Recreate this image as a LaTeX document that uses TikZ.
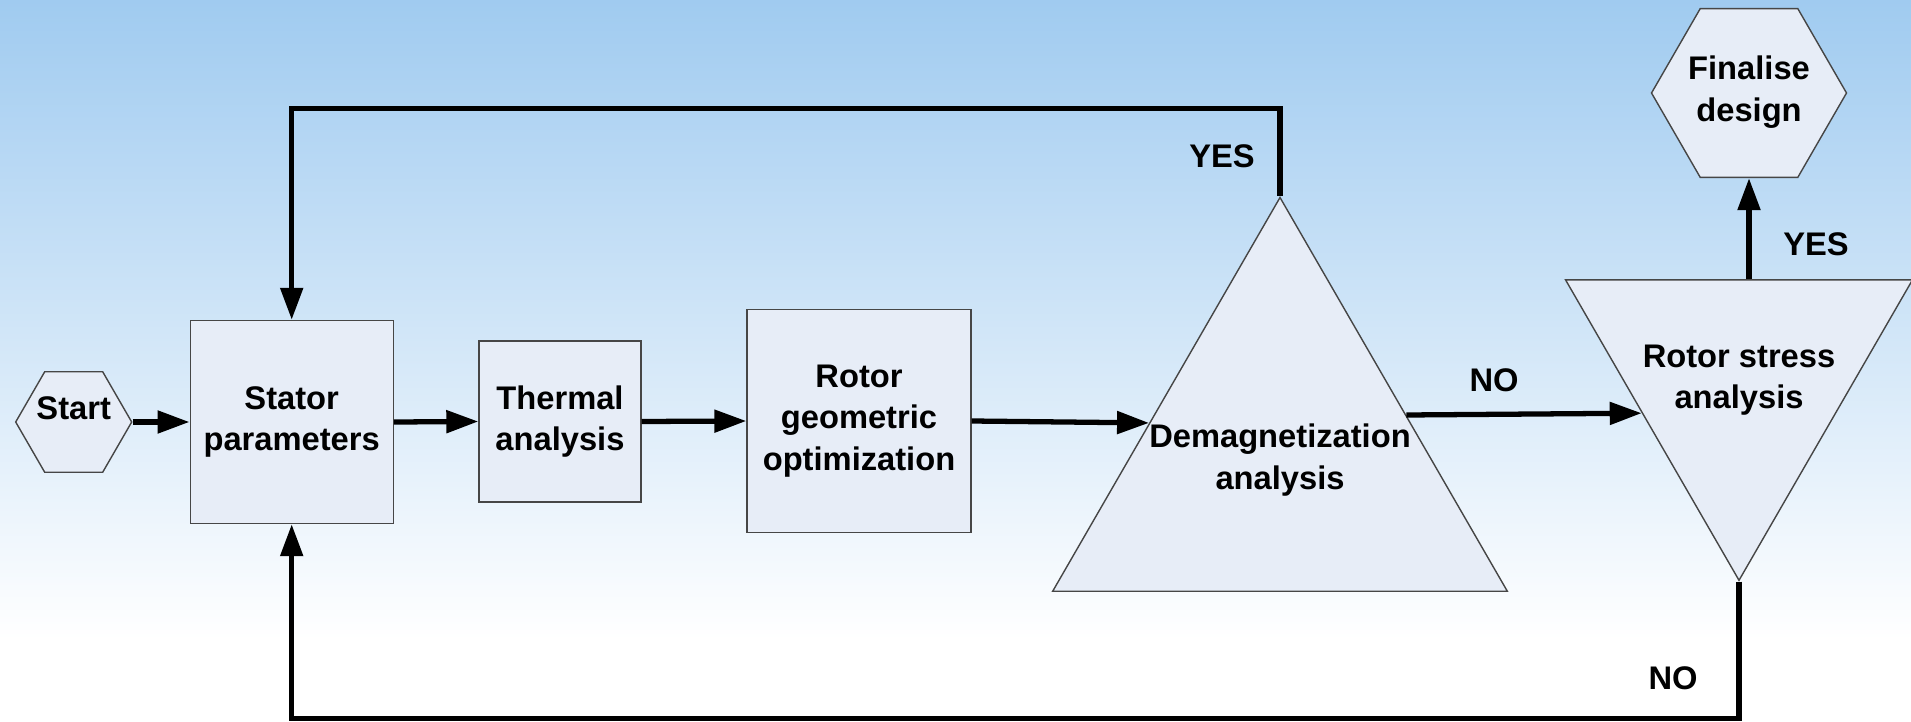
\documentclass[tikz,border=0pt]{standalone}
\usepackage{fontspec}
\setmainfont{Liberation Sans}
\usetikzlibrary{arrows.meta,shapes.geometric,calc}
\definecolor{skytop}{RGB}{160,203,240}
\definecolor{boxfill}{RGB}{231,237,247}
\definecolor{edge}{RGB}{70,70,70}
\tikzset{
  blk/.style={draw=edge, thin, fill=boxfill, inner sep=0pt},
  hexa/.style={blk, regular polygon, regular polygon sides=6},
  tri/.style={blk, regular polygon, regular polygon sides=3},
  txt/.style={font=\fontsize{9.3}{11.8}\selectfont\bfseries, align=center, inner sep=0pt},
  flow/.style={-{Triangle[length=3.2mm,width=2.2mm]}, line width=1.5pt, black},
}
\begin{document}
\begin{tikzpicture}
    \useasboundingbox (0,0) rectangle (19.11,-7.22);
    \fill[white] (0,0) rectangle (19.11,-7.22);
    \shade[top color=skytop, bottom color=white] (0,0) rectangle (19.11,-6.4);
    \node[hexa, minimum size=1.16cm] (start) at (0.737,-4.22) {};
    \node[txt] (starttxt) at (0.737,-4.08) {Start};
    \node[blk, txt, minimum width=2.03cm, minimum height=2.03cm] (stator) at (2.917,-4.22) {Stator\\parameters};
    \node[blk, txt, minimum width=1.62cm, minimum height=1.61cm] (thermal) at (5.60,-4.215) {Thermal\\analysis};
    \node[blk, txt, minimum width=2.24cm, minimum height=2.23cm] (rotgeo) at (8.59,-4.21) {Rotor\\geometric\\optimization};
    \node[tri, minimum size=5.25cm] (demag) at (12.80,-4.60) {};
    \node[txt] (demagtxt) at (12.80,-4.60) {Demagnetization\\analysis};
    \node[tri, regular polygon rotate=180, minimum size=4.006cm] (stress) at (17.39,-3.80) {};
    \node[txt] (stresstxt) at (17.39,-3.80) {Rotor stress\\analysis};
    \node[hexa, minimum size=1.95cm] (fin) at (17.49,-0.93) {};
    \node[txt] (fintxt) at (17.49,-0.92) {Finalise\\design};
    \draw[flow] (start.east) -- (stator.west);
    \draw[flow] (stator.east) -- (thermal.west);
    \draw[flow] (thermal.east) -- (rotgeo.west);
    \draw[flow] (rotgeo.east) -- ($(demag.corner 1)!0.573!(demag.corner 2)$);
    \draw[flow] ($(demag.corner 1)!0.553!(demag.corner 3)$) -- ($(stress.corner 3)!0.443!(stress.corner 1)$);
    \draw[flow] (fin.south |- stress.corner 3) -- (fin.south);
    \draw[flow] (demag.corner 1) -- ++(0,0.873) -| (stator.north);
    \draw[flow] (stress.corner 1) -- ++(0,-1.365) -| (stator.south);
    \node[txt] (yestop) at (12.22,-1.56) {YES};
    \node[txt] (nomid) at (14.94,-3.80) {NO};
    \node[txt] (yesfin) at (18.16,-2.44) {YES};
    \node[txt] (nobot) at (16.73,-6.78) {NO};
\end{tikzpicture}
\end{document}
